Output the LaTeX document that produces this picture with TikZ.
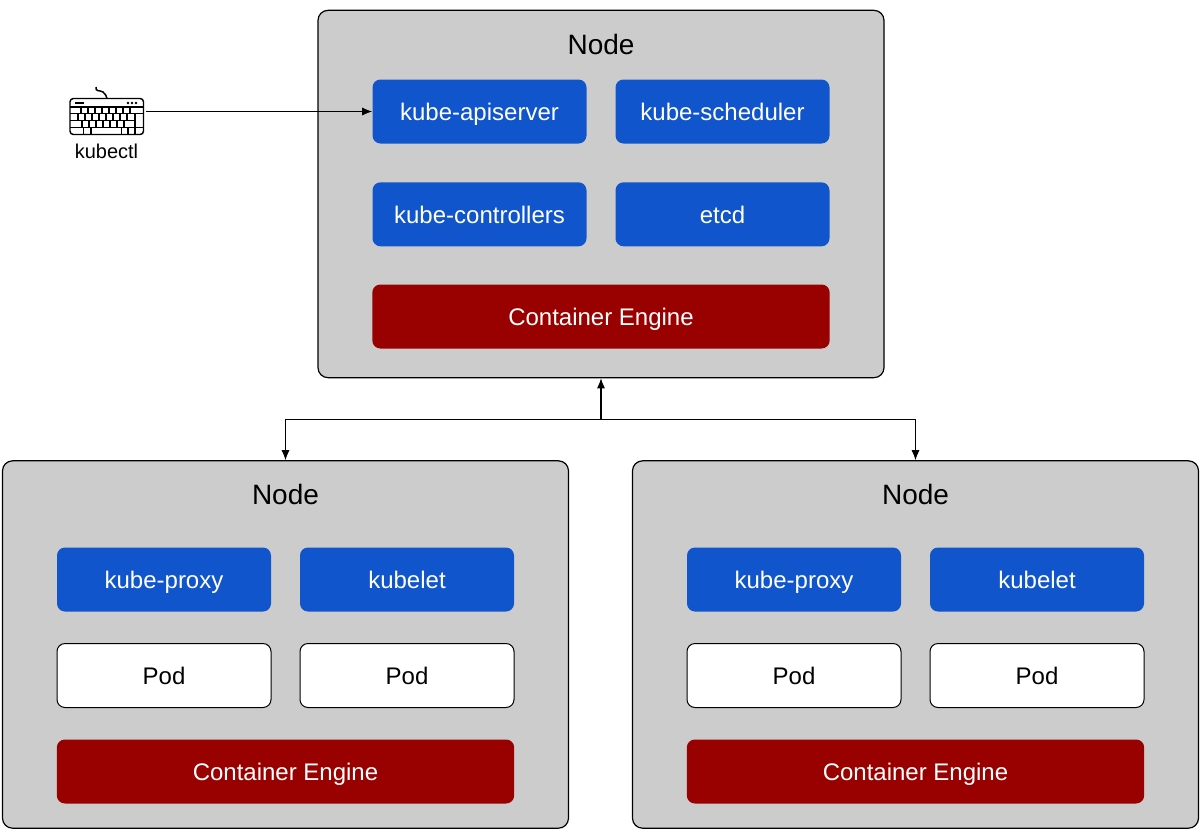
\documentclass[tikz,border=0pt]{standalone}
\usepackage{fontspec}
\setmainfont{Liberation Sans}
\usetikzlibrary{arrows.meta}
\definecolor{nodegray}{HTML}{CCCCCC}
\definecolor{compblue}{HTML}{1155CC}
\definecolor{enginered}{HTML}{990000}
\tikzset{
  nodebox/.style={draw=black,fill=nodegray,rounded corners=7.5pt,line width=0.9pt,minimum width=424.5pt,minimum height=275.5pt,inner sep=0pt},
  boxtext/.style={inner sep=0pt,minimum height=48pt,text height=17.4pt,text depth=4pt,font=\fontsize{18}{20}\selectfont},
  comp/.style={boxtext,fill=compblue,text=white,rounded corners=6pt,minimum width=160.5pt},
  pod/.style={boxtext,draw=black,line width=0.75pt,fill=white,text=black,rounded corners=6pt,minimum width=160.5pt},
  engine/.style={boxtext,fill=enginered,text=white,rounded corners=6pt,minimum width=343pt},
  title/.style={inner sep=0pt,font=\fontsize{21}{24}\selectfont},
  conn/.style={line width=0.85pt,-{Latex[length=7.5pt,width=6pt]}},
  keyline/.style={line width=1.1pt,line join=round}
}
\begin{document}
\begin{tikzpicture}[x=0.75pt,y=-0.75pt]
  \useasboundingbox (0,0) rectangle (1204,833);

  % Top node
  \node[nodebox] (top) at (601,194) {};
  \node[title] (toptitle) at (601,44.5) {Node};
  \node[comp] (api) at (479.5,111.5) {kube-apiserver};
  \node[comp] (sched) at (722.5,111.5) {kube-scheduler};
  \node[comp] (ctrl) at (479.5,214.3) {kube-controllers};
  \node[comp] (etcd) at (722.5,214.3) {etcd};
  \node[engine] (topengine) at (601,316.5) {Container Engine};

  % Left node
  \node[nodebox] (left) at (285.5,644.5) {};
  \node[title] (lefttitle) at (285.5,494.5) {Node};
  \node[comp] (lproxy) at (164,579.5) {kube-proxy};
  \node[comp] (lkubelet) at (407,579.5) {kubelet};
  \node[pod] (lpoda) at (164,675.5) {Pod};
  \node[pod] (lpodb) at (407,675.5) {Pod};
  \node[engine] (lengine) at (285.5,771.5) {Container Engine};

  % Right node
  \node[nodebox] (right) at (915.5,644.5) {};
  \node[title] (righttitle) at (915.5,494.5) {Node};
  \node[comp] (rproxy) at (794,579.5) {kube-proxy};
  \node[comp] (rkubelet) at (1037,579.5) {kubelet};
  \node[pod] (rpoda) at (794,675.5) {Pod};
  \node[pod] (rpodb) at (1037,675.5) {Pod};
  \node[engine] (rengine) at (915.5,771.5) {Container Engine};

  % Keyboard
  \draw[keyline,rounded corners=2.5pt] (70,98.5) rectangle (143.5,134.5);
  \draw[keyline] (70,107) -- (143.5,107);
  \draw[keyline] (70,113.7) -- (143.5,113.7);
  \draw[keyline] (70,120.5) -- (135,120.5);
  \draw[keyline] (70,127.3) -- (143.5,127.3);
  \draw[keyline] (96,87) .. controls (95,92) and (100,90) .. (103,92) .. controls (106,94) and (106,96) .. (107,98.5);
  \draw[line width=1.4pt] (75,103) -- (84,103);
  \foreach \dotx in {128,132,136} \fill (\dotx,103) circle (1.1pt);
  % key edges, one row at a time
  \foreach \rowa/\rowb/\keyx in {
    107/113.7/{81,88,95,102,109,116,123,130},
    113.7/120.5/{78,85,92,99,106,113,120,127,135},
    120.5/127.3/{82,89,96,103,110,117,124,135},
    127.3/134.5/{83.5,91,121.5,128,135}}
  {
    \foreach \kx in \keyx
      \draw[keyline] (\kx,\rowa) -- (\kx,\rowb);
  }
  \coordinate (kbd) at (146,111.5);
  \node[inner sep=0pt,font=\fontsize{15}{17}\selectfont] (kubectl) at (106.5,151.5) {kubectl};

  % Connectors
  \coordinate (junction) at (601,419.3);
  \draw[conn] (kbd) -- (api.west);
  \draw[conn] (junction) -- (top.south);
  \draw[conn] (junction) -| (left.north);
  \draw[conn] (junction) -| (right.north);
\end{tikzpicture}
\end{document}
